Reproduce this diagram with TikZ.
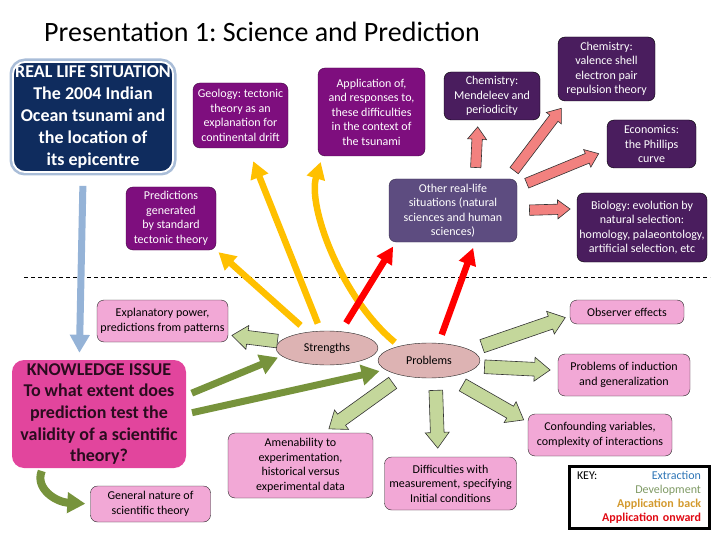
\documentclass[tikz,border=0pt]{standalone}
\usepackage{fontspec}
\setmainfont{Carlito}
\usepackage{xcolor}
\usetikzlibrary{arrows.meta,calc,shapes.geometric,shapes.arrows}
\frenchspacing

\definecolor{navy}{HTML}{0F2C5E}
\definecolor{glow}{HTML}{A9BDD8}
\definecolor{purp}{HTML}{7E0E7E}
\definecolor{dpurp}{HTML}{4A1D5E}
\definecolor{slate}{HTML}{5D4C80}
\definecolor{pinkf}{HTML}{F2A8D6}
\definecolor{kipink}{HTML}{E2459D}
\definecolor{kitext}{HTML}{2A0C1E}
\definecolor{ellfill}{HTML}{DDB3B3}
\definecolor{salmon}{HTML}{F2817F}
\definecolor{lgreen}{HTML}{C4D79B}
\definecolor{devgreen}{HTML}{77933C}
\definecolor{extblue}{HTML}{95B3D7}
\definecolor{yel}{HTML}{FFC000}
\definecolor{redA}{HTML}{FF0000}
\definecolor{keyblue}{HTML}{2E75B6}
\definecolor{keygreen}{HTML}{7F9A65}
\definecolor{keyorange}{HTML}{D39A2F}
\definecolor{keyred}{HTML}{E00A14}

% block arrow from #2 to #3, gaps #4 and #5
\newcommand{\blockarrow}[5][]{%
  \path let \p1=($(#3)-(#2)$), \n1={atan2(\y1,\x1)},
    \n2={veclen(\x1,\y1)-#4-#5} in
    node[blockarr,#1,rotate=\n1,minimum height=\n2,anchor=tail]
      at ($(#2)!#4!(#3)$) {};}

\begin{document}
\begin{tikzpicture}[x=1pt,y=-1pt,
    box/.style={rounded corners=7pt, align=center, inner sep=1pt,
      font=\fontsize{12}{14.5}\selectfont},
    purplebox/.style={box, fill=purp, draw=purp!50!black, text=white},
    darkbox/.style={box, fill=dpurp, draw=black, text=white},
    slatebox/.style={box, fill=slate, draw=slate!60!black, text=white},
    pinkbox/.style={box, fill=pinkf, draw=black!85, text=black},
    oval/.style={ellipse, fill=ellfill, draw=black!85, inner sep=0pt,
      font=\fontsize{12}{14}\selectfont},
    extract/.style={draw=extblue, line width=7pt, -{Triangle[width=19pt,length=18pt]}},
    appback/.style={draw=yel, line width=6.5pt, -{Triangle[width=18pt,length=17pt]}},
    apponward/.style={draw=redA, line width=6.5pt, -{Triangle[width=17pt,length=17pt]}},
    develop/.style={draw=devgreen, line width=7pt, -{Triangle[width=20pt,length=18pt]}},
    blockarr/.style={single arrow, draw=black!80, line width=0.6pt,
      inner xsep=0pt, inner ysep=5pt, single arrow head extend=4pt,
      single arrow tip angle=75, single arrow head indent=0pt},
    greenarr/.style={blockarr, fill=lgreen, minimum width=24pt},
    salmonarr/.style={blockarr, fill=salmon, inner ysep=4.5pt, minimum width=19pt}]

  \useasboundingbox (0,0) rectangle (720,540);

  % Title
  \node[anchor=west, inner sep=0pt, font=\fontsize{28}{32}\selectfont] (title)
    at (44,32) {Presentation 1: Science and Prediction};

  % Real life situation and knowledge issue
  \node[rounded corners=12pt, fill=navy, draw=white, line width=1.8pt,
    preaction={draw=glow, line width=7pt}, minimum width=160pt, minimum height=110pt,
    inner sep=0pt, text=white, align=center, font=\bfseries\fontsize{18}{22}\selectfont]
    (real) at (93,117) {REAL LIFE SITUATION\\The 2004 Indian\\Ocean tsunami and\\the location of\\its epicentre};
  \node[rounded corners=12pt, fill=kipink, minimum width=174pt, minimum height=108pt,
    inner sep=0pt, text=kitext, align=center, font=\bfseries\fontsize{18}{21.7}\selectfont]
    (ki) at (99,414) {KNOWLEDGE ISSUE\\To what extent does\\prediction test the\\validity of a scientific\\theory?};

  % Upper boxes
  \node[purplebox, minimum width=95pt, minimum height=65pt] (geo) at (240.5,115.5)
    {Geology: tectonic\\theory as an\\explanation for\\continental drift};
  \node[purplebox, minimum width=107pt, minimum height=88pt] (app) at (371.5,112)
    {Application of,\\and responses to,\\these difficulties\\in the context of\\the tsunami};
  \node[purplebox, minimum width=90pt, minimum height=63pt] (pred) at (171,218.5)
    {Predictions\\generated\\by standard\\tectonic theory};
  \node[darkbox, minimum width=96pt, minimum height=48pt] (mend) at (492,96)
    {Chemistry:\\Mendeleev and\\periodicity};
  \node[darkbox, minimum width=97pt, minimum height=64pt] (vsepr) at (606.5,69)
    {Chemistry:\\valence shell\\electron pair\\repulsion theory};
  \node[darkbox, minimum width=89pt, minimum height=48pt] (econ) at (651.5,144)
    {Economics:\\the Phillips\\curve};
  \node[darkbox, minimum width=130pt, minimum height=69pt, inner sep=0pt] (bio) at (642,227.5)
    {Biology: evolution by\\natural selection:\\homology, palaeontology,\\artificial selection, etc};
  \node[slatebox, minimum width=128pt, minimum height=63pt] (other) at (453,210.5)
    {Other real-life\\situations (natural\\sciences and human\\sciences)};

  % Dividing line
  \draw[dash pattern=on 4pt off 3pt, line width=0.7pt] (24,277) -- (710,277);

  % Lower boxes
  \node[pinkbox, minimum width=131pt, minimum height=42pt] (expl) at (162.5,321)
    {Explanatory power,\\predictions from patterns};
  \node[oval, minimum width=102pt, minimum height=34pt] (strengths) at (327,348) {Strengths};
  \node[oval, minimum width=102pt, minimum height=35pt] (prob) at (429,360.5) {Problems};
  \node[pinkbox, minimum width=120pt, minimum height=36pt] (gen) at (150.5,504)
    {General nature of\\scientific theory};
  \node[pinkbox, minimum width=145pt, minimum height=65pt] (amen) at (300.5,465.5)
    {Amenability to\\experimentation,\\historical versus\\experimental data};
  \node[pinkbox, minimum width=132pt, minimum height=53pt] (diff) at (450.5,483.5)
    {Difficulties with\\measurement, specifying\\Initial conditions};
  \node[pinkbox, minimum width=114pt, minimum height=24pt] (obs) at (627,312)
    {Observer effects};
  \node[pinkbox, minimum width=132pt, minimum height=42pt] (induc) at (624,375)
    {Problems of induction\\and generalization};
  \node[pinkbox, minimum width=144pt, minimum height=42pt] (conf) at (600,435)
    {Confounding variables,\\complexity of interactions};

  % Key
  \node[draw=black, line width=3pt, minimum width=140pt, minimum height=62pt,
    text width=124pt, align=right, inner sep=0pt, font=\fontsize{12}{14}\selectfont]
    (key) at (639,497)
    {KEY:\hfill\textcolor{keyblue}{Extraction}\\
     \textcolor{keygreen}{Development}\\
     \textcolor{keyorange}{\bfseries Application back}\\
     \textcolor{keyred}{\bfseries Application onward}};

  % Extraction
  \draw[extract, shorten <=13pt, shorten >=7pt] (real.-100) -- (ki.110);

  % Application back
  \draw[appback, shorten <=10pt, shorten >=3pt] (strengths.140) -- (pred.south east);
  \draw[appback, shorten <=8pt, shorten >=14pt] (strengths.110) -- (geo.-77);
  \draw[appback, shorten <=6pt, shorten >=6pt] (prob.154)
    .. controls +(-58,-48) and +(-15,50) .. (app.-138);

  % Application onward
  \draw[apponward, shorten <=10pt, shorten >=5pt] (strengths.50) -- (other.-151.5);
  \draw[apponward, shorten <=9pt, shorten >=6pt] (prob.61) -- (other.-55);
  \blockarrow[salmonarr]{other.55}{mend.-120}{11pt}{7pt}
  \blockarrow[salmonarr]{other.30}{vsepr.-141}{10pt}{9pt}
  \blockarrow[salmonarr]{other.20}{econ.-172}{10pt}{9pt}
  \blockarrow[salmonarr]{other.east}{bio.164}{12pt}{7pt}

  % Development
  \draw[develop, shorten <=6pt, shorten >=4pt] (ki.12) -- (strengths.-170);
  \draw[develop, shorten <=6pt, shorten >=6pt] (ki.east) -- (prob.-168);
  \draw[develop, line width=8pt, shorten <=3pt, shorten >=5pt] (ki.-136)
    .. controls +(-8,20) and +(-35,-2) .. (gen.west);
  \blockarrow[greenarr]{strengths.172}{expl.-12}{2pt}{4pt}
  \blockarrow[greenarr]{prob.-150}{amen.55}{12pt}{7pt}
  \blockarrow[greenarr]{prob.-70}{diff.115}{12pt}{9pt}
  \blockarrow[greenarr]{prob.-40}{conf.170}{16pt}{5pt}
  \blockarrow[greenarr]{prob.-7}{induc.176}{7pt}{8pt}
  \blockarrow[greenarr]{prob.14}{obs.-176}{12pt}{5pt}

\end{tikzpicture}
\end{document}
